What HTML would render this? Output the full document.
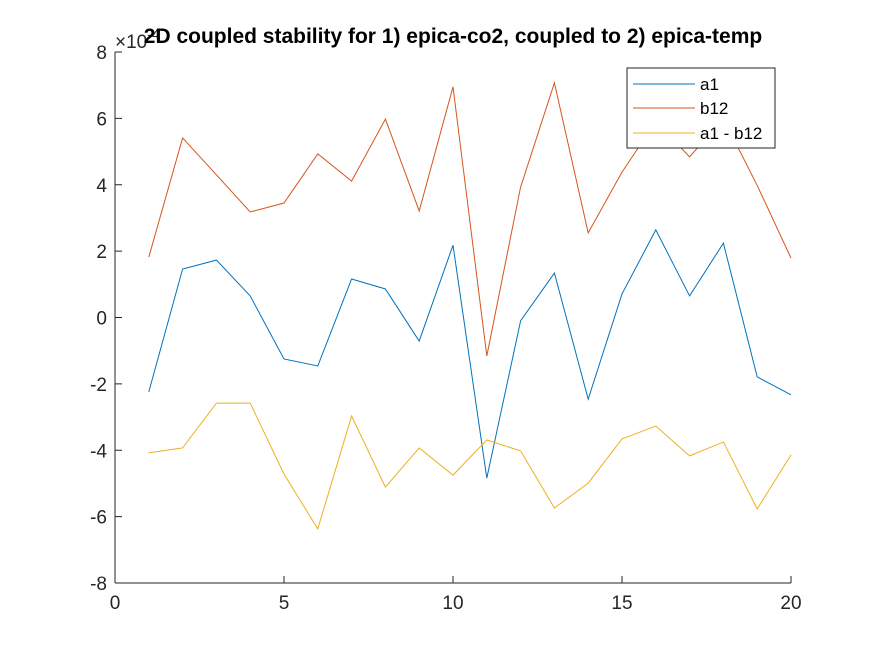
<!DOCTYPE html>
<html><head><meta charset="utf-8"><style>
body{margin:0;background:#fff;}
svg{display:block;font-family:"Liberation Sans",sans-serif;}
</style></head><body>
<svg id="chart" width="875" height="656">
<rect x="0" y="0" width="875" height="656" fill="#fff"/>
<g id="axes"></g>
<g id="series"></g>
<text x="115" y="48" font-size="19" fill="#262626">×10<tspan dy="-9" font-size="14">-4</tspan></text>
<text x="453" y="43" text-anchor="middle" font-weight="bold" font-size="21" fill="#000">2D coupled stability for 1) epica-co2, coupled to 2) epica-temp</text>
<g>
<rect x="627" y="68" width="148" height="80" fill="#fff" stroke="#262626" stroke-width="1"/>
<line x1="633" y1="84" x2="695" y2="84" stroke="#0072BD"/>
<text x="700" y="90" font-size="17" fill="#000">a1</text>
<line x1="633" y1="108" x2="695" y2="108" stroke="#D95319"/>
<text x="700" y="114" font-size="17" fill="#000">b12</text>
<line x1="633" y1="133" x2="695" y2="133" stroke="#EDB120"/>
<text x="700" y="139" font-size="17" fill="#000">a1 - b12</text>
</g>
</svg>
<script>
const xValues=[1,2,3,4,5,6,7,8,9,10,11,12,13,14,15,16,17,18,19,20];
const a1=[-2.24,1.46,1.73,0.65,-1.25,-1.46,1.16,0.86,-0.71,2.18,-4.84,-0.1,1.34,-2.46,0.71,2.64,0.65,2.24,-1.79,-2.33];
const b12=[1.82,5.41,4.3,3.18,3.45,4.93,4.11,5.98,3.21,6.95,-1.16,3.93,7.07,2.55,4.38,5.91,4.84,5.99,3.98,1.79];
const diff=[-4.08,-3.93,-2.58,-2.58,-4.72,-6.37,-2.97,-5.11,-3.93,-4.75,-3.69,-4.02,-5.74,-4.99,-3.66,-3.27,-4.17,-3.75,-5.77,-4.14];
const xTicks=[0,5,10,15,20];
const yTicks=[-8,-6,-4,-2,0,2,4,6,8];
const L=115,R=791,T=52,B=583;
const sx=v=>L+(v-0)/20*(R-L);
const sy=v=>B-(v+8)/16*(B-T);
const NS="http://www.w3.org/2000/svg";
const ax=document.getElementById('axes');
function mk(tag,attrs,parent){const e=document.createElementNS(NS,tag);for(const k in attrs)e.setAttribute(k,attrs[k]);parent.appendChild(e);return e;}
const xl=mk('line',{x1:L,y1:B,x2:R,y2:B,stroke:'#262626'},ax);


const yl=mk('line',{x1:L,y1:T,x2:L,y2:B,stroke:'#262626'},ax);


xTicks.forEach(t=>{const x=sx(t);
mk('line',{x1:x,y1:B,x2:x,y2:B-7,stroke:'#262626'},ax);
const tx=mk('text',{x:x,y:B+26,'text-anchor':'middle','font-size':19,fill:'#262626'},ax);tx.textContent=t;

});
yTicks.forEach(t=>{const y=sy(t);
mk('line',{x1:L,y1:y,x2:L+7,y2:y,stroke:'#262626'},ax);
const tx=mk('text',{x:L-8,y:y+7,'text-anchor':'end','font-size':19,fill:'#262626'},ax);tx.textContent=t;

});
const sg=document.getElementById('series');
[[a1,'#0072BD','series-a1'],[b12,'#D95319','series-b12'],[diff,'#EDB120','series-a1-minus-b12']].forEach(([d,c,n])=>{
const p=mk('polyline',{points:d.map((v,i)=>sx(xValues[i])+','+sy(v)).join(' '),fill:'none',stroke:c,'stroke-width':1},sg);

});
</script>
</body></html>
